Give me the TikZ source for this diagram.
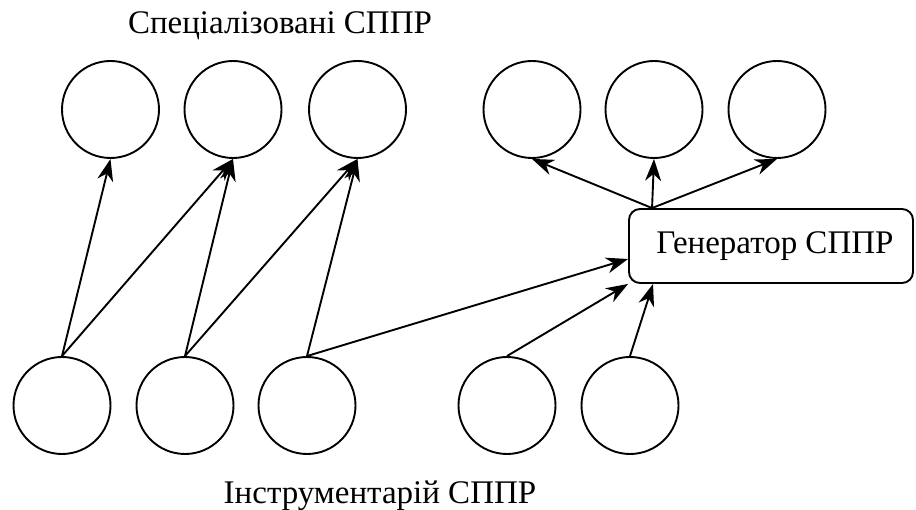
\documentclass[tikz,border=0pt]{standalone}
\usepackage{fontspec}
\setmainfont{Liberation Serif}
\newfontfamily\labelfont{Liberation Serif}
\usetikzlibrary{arrows.meta,calc}
\begin{document}
\begin{tikzpicture}[x=1pt,y=-1pt,
  every node/.style={font=\labelfont\fontsize{33}{40}\selectfont},
  unit/.style={circle,draw,line width=1.9pt,inner sep=0pt,minimum size=97pt},
  genbox/.style={draw,line width=1.9pt,rounded corners=11pt,minimum width=284pt,minimum height=74pt,inner sep=0pt},
  link/.style={line width=1.9pt,-{Stealth[length=22pt,width=16pt,inset=7pt]}},
  caption/.style={anchor=base,inner sep=0pt}]
\useasboundingbox (0,0) rectangle (916,510);

% specialised DSS (top row)
\node[unit] (s1) at (110.5,109.5) {};
\node[unit] (s2) at (233,109.5) {};
\node[unit] (s3) at (357.5,109.5) {};
\node[unit] (s4) at (532,109.5) {};
\node[unit] (s5) at (654,109.5) {};
\node[unit] (s6) at (777,109.5) {};

% toolkit (bottom row)
\node[unit] (t1) at (62,405.5) {};
\node[unit] (t2) at (185,405.5) {};
\node[unit] (t3) at (307,405.5) {};
\node[unit] (t4) at (507,405.5) {};
\node[unit] (t5) at (630,405.5) {};

% generator
\node[genbox] (gen) at (771,246) {\hspace*{8pt}Генератор СППР};

% captions
\node[caption] (capS) at (280,34) {Спеціалізовані СППР};
\node[caption] (capT) at (380,503) {Інструментарій СППР};

% toolkit -> specialised DSS
\draw[link] (t1.north) -- (s1.south);
\draw[link] (t1.north) -- (s2.south);
\draw[link] (t2.north) -- (s2.south);
\draw[link] (t2.north) -- (s3.south);
\draw[link] (t3.north) -- (s3.south);

% toolkit -> generator
\coordinate (g1) at ($(gen.west)+(0,13)$);
\coordinate (g2) at (gen.south west);
\coordinate (g3) at ($(gen.south west)+(25,0)$);
\draw[link] (t3.north) -- (g1);
\draw[link] (t4.north) -- (g2);
\draw[link] (t5.north) -- (g3);

% generator -> specialised DSS
\coordinate (gt) at ($(gen.north west)+(24,0)$);
\draw[link] (gt) -- (s4.south);
\draw[link] (gt) -- (s5.south);
\draw[link] (gt) -- (s6.south);
\end{tikzpicture}
\end{document}
